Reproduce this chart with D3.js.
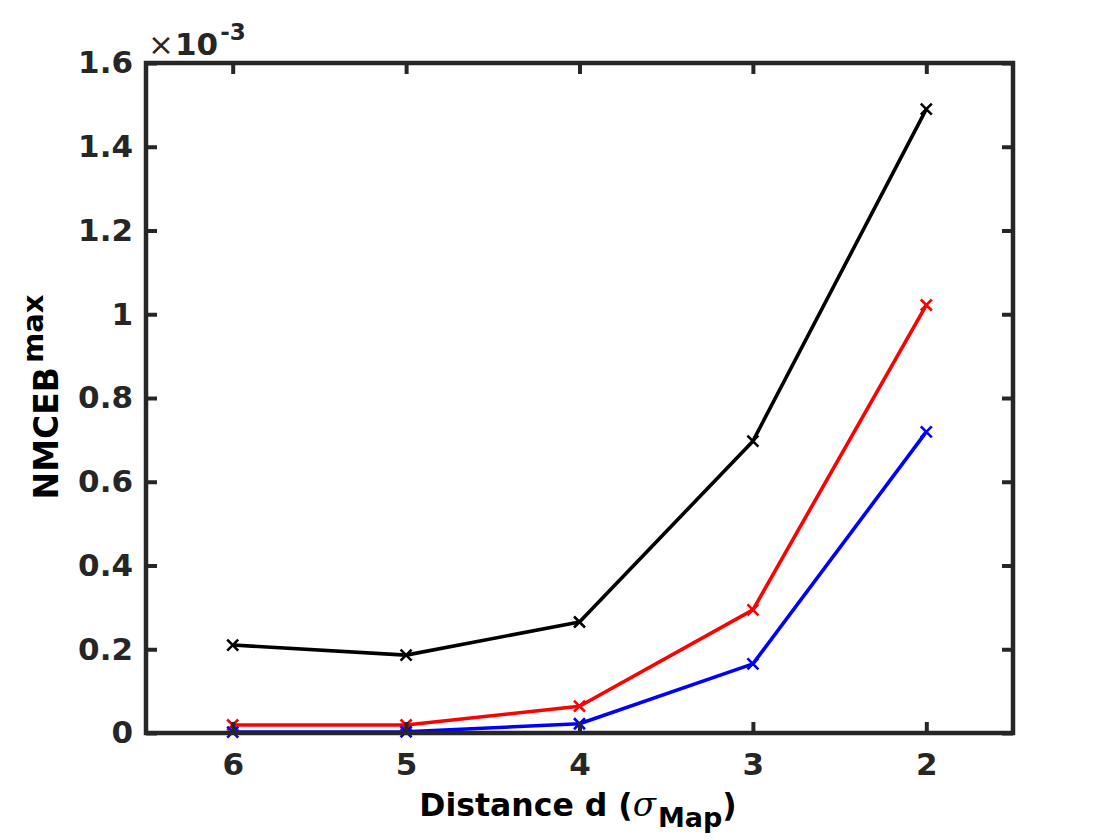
<!DOCTYPE html>
<html>
<head>
<meta charset="utf-8">
<script src="https://cdn.jsdelivr.net/npm/d3@7"></script>
<style>
  body { margin: 0; background: #fff; }
  svg { display: block; font-family: "DejaVu Sans", sans-serif; }
</style>
</head>
<body>
<svg id="chart" width="1120" height="840"></svg>
<script>
// distances (x axis, reversed)
const distances = [6, 5, 4, 3, 2];
// NMCEB max values, in units of 1e-3
const blackSeries = [0.210, 0.186, 0.265, 0.697, 1.490];
const redSeries = [0.019, 0.019, 0.064, 0.294, 1.022];
const blueSeries = [0.002, 0.003, 0.022, 0.165, 0.719];
const yTicks = [0, 0.2, 0.4, 0.6, 0.8, 1, 1.2, 1.4, 1.6];

const series = [
  { color: "#000000", values: blackSeries },
  { color: "#ff0000", values: redSeries },
  { color: "#0000ff", values: blueSeries }
];

const margin = { left: 146, right: 1013, top: 63, bottom: 733 };
const axisColor = "#262626";

const svg = d3.select("#chart");

const x = d3.scaleLinear().domain([6.5, 1.5]).range([margin.left, margin.right]);
const y = d3.scaleLinear().domain([0, 1.6]).range([margin.bottom, margin.top]);

// data lines
const line = d3.line()
  .x((d, i) => x(distances[i]))
  .y(d => y(d));

const plot = svg.append("g");

series.forEach(s => {
  plot.append("path")
    .datum(s.values)
    .attr("fill", "none")
    .attr("stroke", s.color)
    .attr("stroke-width", 3.6)
    .attr("stroke-linejoin", "round")
    .attr("d", line);

  // x markers
  const m = 5.5;
  plot.append("g").selectAll("path")
    .data(s.values)
    .enter().append("path")
    .attr("fill", "none")
    .attr("stroke", s.color)
    .attr("stroke-width", 2.6)
    .attr("d", (d, i) => {
      const cx = x(distances[i]), cy = y(d);
      return `M${cx - m},${cy - m}L${cx + m},${cy + m}M${cx - m},${cy + m}L${cx + m},${cy - m}`;
    });
});

// axes: ticks inside, box around
const tickLen = 11;
const bottomAxis = d3.axisBottom(x).tickValues(distances).tickSize(-tickLen).tickPadding(20).tickFormat(d3.format("d"));
const topAxis = d3.axisTop(x).tickValues(distances).tickSize(-tickLen).tickFormat("");
const leftAxis = d3.axisLeft(y).tickValues(yTicks).tickSize(-tickLen).tickPadding(13).tickFormat(d => d === 0 ? "0" : d3.format("~g")(d));
const rightAxis = d3.axisRight(y).tickValues(yTicks).tickSize(-tickLen).tickFormat("");

function styleAxis(g) {
  g.select(".domain").remove();
  g.selectAll(".tick line").attr("stroke", axisColor).attr("stroke-width", 4);
  g.selectAll(".tick text")
    .attr("fill", axisColor)
    .attr("font-size", 31)
    .attr("font-weight", "bold")
    .attr("font-family", "DejaVu Sans, sans-serif");
}

svg.append("g").attr("transform", `translate(0,${margin.bottom})`).call(bottomAxis).call(styleAxis);
svg.append("g").attr("transform", `translate(0,${margin.top})`).call(topAxis).call(styleAxis);
svg.append("g").attr("transform", `translate(${margin.left},0)`).call(leftAxis).call(styleAxis);
svg.append("g").attr("transform", `translate(${margin.right},0)`).call(rightAxis).call(styleAxis);

svg.append("rect")
  .attr("x", margin.left)
  .attr("y", margin.top)
  .attr("width", margin.right - margin.left)
  .attr("height", margin.bottom - margin.top)
  .attr("fill", "none")
  .attr("stroke", axisColor)
  .attr("stroke-width", 4.5);

// exponent label
const expo = svg.append("text")
  .attr("x", 148)
  .attr("y", 55)
  .attr("fill", axisColor)
  .attr("font-size", 31);
expo.append("tspan").text("×");
expo.append("tspan").attr("font-weight", "bold").attr("dx", 1).text("10");
expo.append("tspan").attr("font-weight", "bold").attr("font-size", 23).attr("dx", 2).attr("dy", -15).text("-3");

// x axis title
const xTitle = svg.append("text")
  .attr("x", 578)
  .attr("y", 816)
  .attr("text-anchor", "middle")
  .attr("fill", "#000")
  .attr("font-size", 31.5)
  .attr("font-weight", "bold");
xTitle.append("tspan").text("Distance d (");
xTitle.append("tspan").attr("font-family", "DejaVu Serif, serif").attr("font-style", "italic").attr("font-weight", "normal").attr("font-size", 34).text("σ");
xTitle.append("tspan").attr("font-size", 27).attr("dx", 2).attr("dy", 11).text("Map");
xTitle.append("tspan").attr("dy", -11).text(")");

// y axis title
const yTitle = svg.append("text")
  .attr("transform", `translate(58,397) rotate(-90)`)
  .attr("text-anchor", "middle")
  .attr("fill", "#000")
  .attr("font-size", 33)
  .attr("font-weight", "bold");
yTitle.append("tspan").text("NMCEB");
yTitle.append("tspan").attr("font-size", 29).attr("dx", 4).attr("dy", -15).text("max");
</script>
</body>
</html>
